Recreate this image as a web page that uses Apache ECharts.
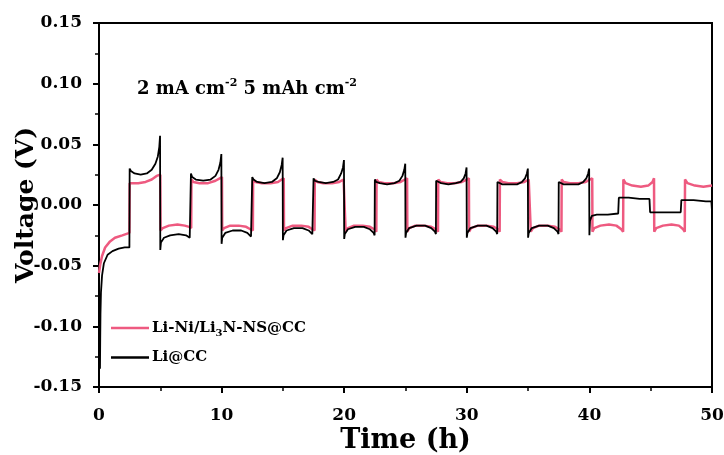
<!DOCTYPE html>
<html><head><meta charset="utf-8">
<script src="https://cdn.jsdelivr.net/npm/echarts@6/dist/echarts.min.js"></script>
<style>html,body{margin:0;padding:0;background:#fff}#c{width:724px;height:455px}</style>
</head><body><div id="c"></div>
<script>
const seriesNames = ['Li-Ni/Li3N-NS@CC', 'Li@CC'];
const xTicks = [0, 10, 20, 30, 40, 50];
const yTicks = [-0.15, -0.10, -0.05, 0.00, 0.05, 0.10, 0.15];

// Li-Ni/Li3N-NS@CC  [time (h), voltage (V)]
const pinkData = [
[0,-0.056],[0.1,-0.049],[0.25,-0.042],[0.5,-0.035],[0.9,-0.030],[1.3,-0.027],[1.9,-0.025],[2.48,-0.023],
[2.5,0.018],[2.7,0.018],[3.2,0.018],[3.8,0.019],[4.3,0.021],[4.7,0.024],[5.0,0.025],
[5.02,-0.021],[5.2,-0.019],[5.7,-0.017],[6.4,-0.016],[7.0,-0.017],[7.35,-0.018],[7.52,-0.019],
[7.54,0.021],[7.7,0.019],[8.2,0.018],[8.9,0.018],[9.5,0.020],[9.85,0.022],[10.03,0.023],
[10.05,-0.021],[10.2,-0.019],[10.7,-0.017],[11.4,-0.017],[12.0,-0.018],[12.35,-0.020],[12.55,-0.021],
[12.57,0.021],[12.75,0.019],[13.3,0.018],[14.0,0.018],[14.6,0.019],[14.9,0.021],[15.07,0.022],
[15.09,-0.021],[15.25,-0.019],[15.8,-0.017],[16.5,-0.017],[17.1,-0.018],[17.4,-0.020],[17.58,-0.021],
[17.6,0.021],[17.8,0.019],[18.3,0.018],[19.0,0.018],[19.6,0.019],[19.95,0.021],[20.1,0.022],
[20.12,-0.022],[20.3,-0.019],[20.8,-0.017],[21.5,-0.017],[22.1,-0.018],[22.45,-0.020],[22.62,-0.022],
[22.64,0.021],[22.8,0.019],[23.3,0.018],[24.0,0.018],[24.6,0.019],[24.95,0.021],[25.13,0.022],
[25.15,-0.022],[25.3,-0.019],[25.8,-0.017],[26.5,-0.017],[27.1,-0.018],[27.5,-0.020],[27.65,-0.022],
[27.67,0.021],[27.85,0.019],[28.4,0.018],[29.0,0.018],[29.6,0.019],[30.0,0.021],[30.17,0.022],
[30.19,-0.022],[30.35,-0.019],[30.9,-0.017],[31.6,-0.017],[32.2,-0.018],[32.55,-0.020],[32.68,-0.022],
[32.7,0.021],[32.9,0.019],[33.4,0.018],[34.1,0.018],[34.7,0.019],[35.05,0.021],[35.2,0.022],
[35.22,-0.022],[35.4,-0.019],[35.9,-0.017],[36.6,-0.017],[37.2,-0.018],[37.55,-0.020],[37.72,-0.022],
[37.74,0.021],[37.9,0.019],[38.4,0.018],[39.1,0.018],[39.7,0.019],[40.05,0.021],[40.23,0.022],
[40.25,-0.022],[40.4,-0.019],[40.9,-0.017],[41.6,-0.016],[42.2,-0.017],[42.6,-0.020],[42.75,-0.022],
[42.77,0.021],[42.95,0.018],[43.5,0.016],[44.2,0.015],[44.8,0.016],[45.15,0.019],[45.27,0.022],
[45.29,-0.022],[45.45,-0.019],[46.0,-0.017],[46.7,-0.016],[47.3,-0.017],[47.65,-0.020],[47.78,-0.022],
[47.8,0.021],[48.0,0.018],[48.6,0.016],[49.3,0.015],[50,0.016]
];

// Li@CC  [time (h), voltage (V)]
const blackData = [
[0.08,-0.135],[0.1,-0.11],[0.12,-0.09],[0.16,-0.072],[0.25,-0.058],[0.4,-0.048],[0.7,-0.041],[1.1,-0.038],[1.6,-0.036],[2.1,-0.035],[2.48,-0.035],
[2.5,0.030],[2.6,0.028],[2.9,0.026],[3.4,0.025],[3.9,0.026],[4.3,0.029],[4.6,0.034],[4.8,0.040],[4.92,0.048],[4.98,0.057],
[5.0,-0.037],[5.05,-0.031],[5.3,-0.027],[5.8,-0.025],[6.5,-0.024],[7.1,-0.025],[7.4,-0.027],[7.48,-0.028],
[7.5,0.026],[7.6,0.023],[7.9,0.021],[8.5,0.020],[9.1,0.021],[9.5,0.024],[9.75,0.029],[9.9,0.035],[9.98,0.042],
[10.0,-0.032],[10.05,-0.027],[10.3,-0.023],[10.9,-0.021],[11.6,-0.021],[12.1,-0.023],[12.4,-0.026],[12.48,-0.027],
[12.5,0.023],[12.6,0.021],[12.9,0.019],[13.5,0.018],[14.1,0.019],[14.5,0.022],[14.75,0.027],[14.9,0.033],[14.98,0.039],
[15.0,-0.029],[15.05,-0.025],[15.3,-0.021],[15.9,-0.019],[16.6,-0.019],[17.1,-0.021],[17.4,-0.024],[17.48,-0.025],
[17.5,0.022],[17.6,0.020],[17.9,0.019],[18.5,0.018],[19.1,0.019],[19.5,0.021],[19.75,0.026],[19.9,0.031],[19.98,0.037],
[20.0,-0.028],[20.05,-0.024],[20.3,-0.020],[20.9,-0.018],[21.6,-0.018],[22.1,-0.020],[22.4,-0.023],[22.48,-0.025],
[22.5,0.021],[22.6,0.019],[22.9,0.018],[23.5,0.017],[24.1,0.018],[24.5,0.020],[24.75,0.024],[24.9,0.029],[24.98,0.034],
[25.0,-0.027],[25.05,-0.023],[25.3,-0.019],[25.9,-0.017],[26.6,-0.017],[27.1,-0.019],[27.4,-0.022],[27.48,-0.024],
[27.5,0.020],[27.6,0.019],[27.9,0.018],[28.5,0.017],[29.1,0.018],[29.5,0.019],[29.75,0.022],[29.9,0.026],[29.98,0.031],
[30.0,-0.027],[30.05,-0.023],[30.3,-0.019],[30.9,-0.017],[31.6,-0.017],[32.1,-0.019],[32.4,-0.022],[32.48,-0.024],
[32.5,0.019],[32.6,0.018],[32.9,0.017],[33.5,0.017],[34.1,0.017],[34.5,0.019],[34.75,0.022],[34.9,0.026],[34.98,0.030],
[35.0,-0.027],[35.05,-0.023],[35.3,-0.019],[35.9,-0.017],[36.6,-0.017],[37.1,-0.019],[37.4,-0.022],[37.48,-0.024],
[37.5,0.019],[37.6,0.018],[37.9,0.017],[38.5,0.017],[39.1,0.017],[39.5,0.019],[39.75,0.022],[39.9,0.026],[39.98,0.030],
[40.0,-0.025],[40.05,-0.013],[40.2,-0.009],[40.6,-0.008],[41.5,-0.008],[42.35,-0.007],
[42.4,0.006],[43.2,0.006],[44.1,0.005],[44.9,0.005],
[44.95,-0.006],[46.0,-0.006],[47.45,-0.006],
[47.5,0.004],[48.5,0.004],[49.5,0.003],[49.95,0.003],[50.0,-0.005]
];

const FONT = 'DejaVu Serif';
const chart = echarts.init(document.getElementById('c'), null, {renderer: 'canvas'});
chart.setOption({
  animation: false,
  backgroundColor: '#fff',
  grid: {left: 99, top: 23, right: 12, bottom: 68, outerBoundsMode: 'none', containLabel: false,
         show: true, borderColor: '#000', borderWidth: 2, backgroundColor: 'transparent'},
  xAxis: {
    type: 'value', min: xTicks[0], max: xTicks[xTicks.length - 1], interval: 10,
    name: 'Time (h)', nameLocation: 'middle', nameGap: 40, nameMoveOverlap: false,
    nameTextStyle: {fontFamily: FONT, fontWeight: 'bold', fontSize: 27, color: '#000'},
    axisLine: {onZero: false, lineStyle: {color: '#000', width: 2}},
    axisTick: {show: true, inside: false, length: 6, lineStyle: {color: '#000', width: 2}},
    minorTick: {show: true, splitNumber: 2, length: 4, lineStyle: {color: '#000', width: 1.5}},
    splitLine: {show: false},
    axisLabel: {margin: 20, fontFamily: FONT, fontWeight: 'bold', fontSize: 17, color: '#000'}
  },
  yAxis: {
    type: 'value', min: yTicks[0], max: yTicks[yTicks.length - 1], interval: 0.05,
    name: 'Voltage (V)', nameLocation: 'middle', nameGap: 60, nameMoveOverlap: false,
    nameTextStyle: {fontFamily: FONT, fontWeight: 'bold', fontSize: 25, color: '#000'},
    axisLine: {onZero: false, lineStyle: {color: '#000', width: 2}},
    axisTick: {show: true, inside: false, length: 6, lineStyle: {color: '#000', width: 2}},
    minorTick: {show: true, splitNumber: 2, length: 4, lineStyle: {color: '#000', width: 1.5}},
    splitLine: {show: false},
    axisLabel: {margin: 17, fontFamily: FONT, fontWeight: 'bold', fontSize: 17, color: '#000',
      formatter: v => (Math.abs(v) < 1e-9 ? 0 : v).toFixed(2)}
  },
  legend: {
    orient: 'vertical', left: 106, top: 315, icon: 'rect', itemWidth: 38, itemHeight: 2.5, itemGap: 12,
    data: seriesNames,
    formatter: n => n === seriesNames[0] ? '{b|Li-Ni/Li}{s|3}{b|N-NS@CC}' : '{b|Li@CC}',
    textStyle: {
      padding: [0, 0, 0, -2],
      rich: {
        b: {fontFamily: FONT, fontWeight: 'bold', fontSize: 15, color: '#000', lineHeight: 20},
        s: {fontFamily: FONT, fontWeight: 'bold', fontSize: 10, color: '#000', lineHeight: 12, verticalAlign: 'bottom', padding: [8, 0, 0, 0]}
      }
    }
  },
  graphic: [{
    type: 'text', left: 137, top: 78,
    style: {
      text: '{b|2 mA cm}{p|-2}{b| 5 mAh cm}{p|-2}',
      rich: {
        b: {fontFamily: FONT, fontWeight: 'bold', fontSize: 18, fill: '#000', lineHeight: 22},
        p: {fontFamily: FONT, fontWeight: 'bold', fontSize: 11, fill: '#000', lineHeight: 12, verticalAlign: 'top', padding: [0, 0, 8, 0]}
      }
    }
  }],
  series: [
    {name: seriesNames[0], type: 'line', data: pinkData, showSymbol: false, symbol: 'none',
     lineStyle: {color: '#ee5a80', width: 2.5}, itemStyle: {color: '#ee5a80'}, z: 2},
    {name: seriesNames[1], type: 'line', data: blackData, showSymbol: false, symbol: 'none',
     lineStyle: {color: '#000', width: 1.8}, itemStyle: {color: '#000'}, z: 3}
  ]
});
</script></body></html>
